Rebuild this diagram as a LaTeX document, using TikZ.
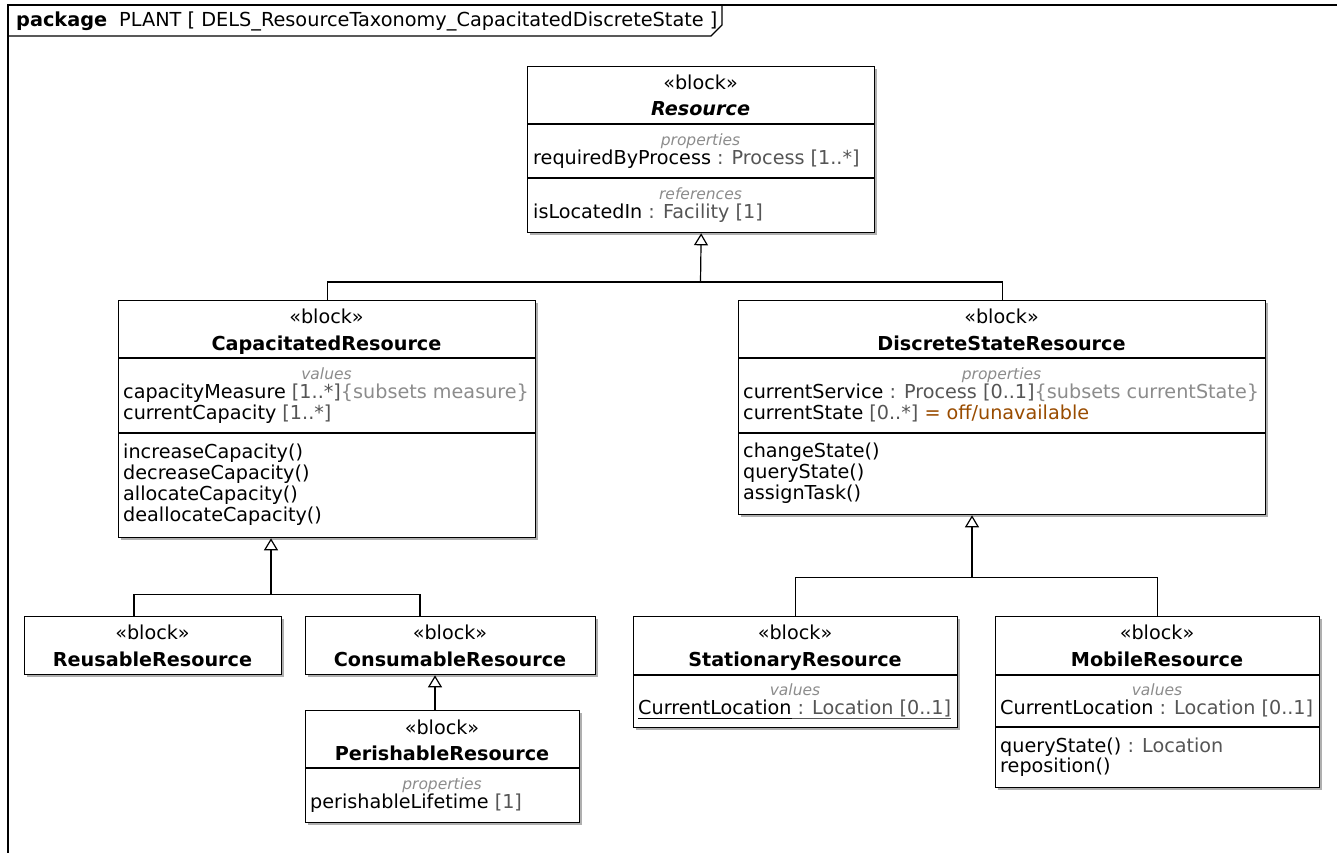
\documentclass[tikz,border=0pt]{standalone}
\usepackage{fontspec}
\setmainfont{DejaVu Sans}
\usetikzlibrary{arrows.meta,calc}
\definecolor{typegray}{RGB}{85,85,85}
\definecolor{lightg}{RGB}{140,140,140}
\definecolor{brownv}{RGB}{153,76,0}
\definecolor{shadowc}{RGB}{175,175,175}
\newcommand\tg[1]{\textcolor{typegray}{#1}}
\newcommand\lgr[1]{\textcolor{lightg}{#1}}
\newcommand\umlbox[5]{%
  \fill[shadowc] (#2+2.5,#3+2.5) rectangle (#4+2.5,#5+2.5);
  \node[blk,anchor=north west,minimum width={#4-#2},minimum height={#5-#3}] (#1) at (#2,#3) {};}
\begin{document}
\begin{tikzpicture}[x=1pt,y=-1pt,
  blk/.style={draw=black,line width=1.3pt,fill=white,inner sep=0pt},
  divl/.style={draw=black,line width=1.3pt},
  framel/.style={draw=black,line width=1.3pt},
  conn/.style={draw=black,line width=1.2pt},
  gen/.style={conn,-{Triangle[open,width=14pt,length=12pt,line width=1.2pt]}},
  stereo/.style={inner sep=0pt,font=\fontsize{19.2}{20}\selectfont,anchor=mid,yshift=-4pt},
  bname/.style={inner sep=0pt,font=\fontsize{19.2}{20}\selectfont\bfseries,anchor=mid,yshift=-4pt},
  lbl/.style={inner sep=0pt,font=\fontsize{15.5}{16}\selectfont\itshape,text=lightg,anchor=mid,yshift=-4pt},
  ln/.style={inner sep=0pt,font=\fontsize{19.2}{20}\selectfont,anchor=mid west,yshift=-4pt},
  hdrs/.style={inner sep=0pt,font=\fontsize{19.3}{20}\selectfont,anchor=mid west,yshift=-4pt}]
\useasboundingbox (0,0) rectangle (1337,852);
\fill[white] (0,0) rectangle (1337,852);
% package frame
\draw[framel] (8,870) -- (8,5) -- (1350,5);
\draw[framel] (8,36) -- (711,36) -- (722,25) -- (722,5);
\node[hdrs] (hdr) at (16,20) {{\bfseries package}\hspace{12pt}PLANT [ DELS\_ResourceTaxonomy\_CapacitatedDiscreteState ]};

% ---------- Resource
\umlbox{res}{527}{66}{874}{232}
\draw[divl] (527,124) -- (874,124);
\draw[divl] (527,178) -- (874,178);
\node[stereo] (res1) at (700.5,83) {«block»};
\node[bname] (res2) at (700.5,109) {\itshape Resource};
\node[lbl] (res3) at (700.5,139) {properties};
\node[ln] (res4) at (533,158) {requiredByProcess \tg{: Process [1..*]}};
\node[lbl] (res5) at (700.5,193) {references};
\node[ln] (res6) at (533,212) {isLocatedIn \tg{: Facility [1]}};

% ---------- CapacitatedResource
\umlbox{cap}{118}{300}{535}{537}
\draw[divl] (118,358) -- (535,358);
\draw[divl] (118,433) -- (535,433);
\node[stereo] (cap1) at (326.5,317) {«block»};
\node[bname] (cap2) at (326.5,344) {CapacitatedResource};
\node[lbl] (cap3) at (326.5,373) {values};
\node[ln] (cap4) at (123,392) {capacityMeasure \tg{[1..*]}\lgr{\{subsets measure\}}};
\node[ln] (cap5) at (123,413) {currentCapacity \tg{[1..*]}};
\node[ln] (cap6) at (123,452) {increaseCapacity()};
\node[ln] (cap7) at (123,473) {decreaseCapacity()};
\node[ln] (cap8) at (123,494) {allocateCapacity()};
\node[ln] (cap9) at (123,515) {deallocateCapacity()};

% ---------- DiscreteStateResource
\umlbox{dsr}{738}{300}{1265}{514}
\draw[divl] (738,358) -- (1265,358);
\draw[divl] (738,433) -- (1265,433);
\node[stereo] (dsr1) at (1001.5,317) {«block»};
\node[bname] (dsr2) at (1001.5,344) {DiscreteStateResource};
\node[lbl] (dsr3) at (1001.5,373) {properties};
\node[ln] (dsr4) at (743,392) {currentService \tg{: Process [0..1]}\lgr{\{subsets currentState\}}};
\node[ln] (dsr5) at (743,413) {currentState \tg{[0..*]} \textcolor{brownv}{= off/unavailable}};
\node[ln] (dsr6) at (743,451) {changeState()};
\node[ln] (dsr7) at (743,472) {queryState()};
\node[ln] (dsr8) at (743,493) {assignTask()};

% ---------- ReusableResource
\umlbox{reu}{24}{616}{281}{674}
\node[stereo] (reu1) at (152.5,633) {«block»};
\node[bname] (reu2) at (152.5,660) {ReusableResource};

% ---------- ConsumableResource
\umlbox{con}{305}{616}{595}{674}
\node[stereo] (con1) at (450,633) {«block»};
\node[bname] (con2) at (450,660) {ConsumableResource};

% ---------- PerishableResource
\umlbox{per}{305}{710}{579}{822}
\draw[divl] (305,768) -- (579,768);
\node[stereo] (per1) at (442,728) {«block»};
\node[bname] (per2) at (442,754) {PerishableResource};
\node[lbl] (per3) at (442,783) {properties};
\node[ln] (per4) at (310,802) {perishableLifetime \tg{[1]}};

% ---------- StationaryResource
\umlbox{sta}{633}{616}{957}{727}
\draw[divl] (633,675) -- (957,675);
\node[stereo] (sta1) at (795,633) {«block»};
\node[bname] (sta2) at (795,660) {StationaryResource};
\node[lbl] (sta3) at (795,689) {values};
\node[ln] (sta4) at (638,708) {\underline{CurrentLocation\vphantom{[}}\tg{\underline{\ : Location [0..1]}}};

% ---------- MobileResource
\umlbox{mob}{995}{616}{1319}{787}
\draw[divl] (995,675) -- (1319,675);
\draw[divl] (995,727) -- (1319,727);
\node[stereo] (mob1) at (1157,633) {«block»};
\node[bname] (mob2) at (1157,660) {MobileResource};
\node[lbl] (mob3) at (1157,689) {values};
\node[ln] (mob4) at (1000,708) {CurrentLocation \tg{: Location [0..1]}};
\node[ln] (mob5) at (1000,746) {queryState() \tg{: Location}};
\node[ln] (mob6) at (1000,766) {reposition()};

% ---------- generalizations
\coordinate (j1) at (700.5,282);
\draw[gen] (j1) -- (res.south);
\draw[conn] (cap.north) |- (j1);
\draw[conn] (dsr.north) |- (j1);

\coordinate (capG) at ($(cap.south west)+(153,0)$);
\coordinate (j2) at ($(capG)+(0,56)$);
\coordinate (reuT) at ($(reu.north west)+(110,0)$);
\coordinate (conT) at ($(con.north west)+(115,0)$);
\draw[gen] (j2) -- (capG);
\draw[conn] (reuT) |- (j2);
\draw[conn] (conT) |- (j2);

\coordinate (dsrG) at ($(dsr.south west)+(234,0)$);
\coordinate (j3) at ($(dsrG)+(0,62)$);
\draw[gen] (j3) -- (dsrG);
\draw[conn] (sta.north) |- (j3);
\draw[conn] (mob.north) |- (j3);

\coordinate (conG) at ($(con.south west)+(130,0)$);
\coordinate (perT) at (per.north -| conG);
\draw[gen] (perT) -- (conG);
\end{tikzpicture}
\end{document}
